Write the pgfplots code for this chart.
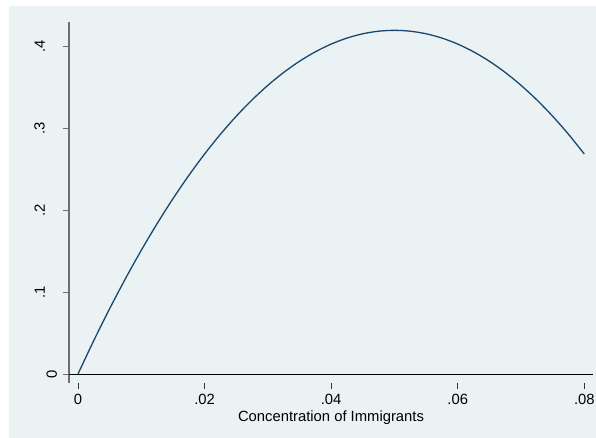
\documentclass[border=0pt]{standalone}
\usepackage{fontspec}
\setmainfont{Liberation Sans}
\usepackage{pgfplots}
\pgfplotsset{compat=1.18}
\definecolor{bgc}{HTML}{EAF2F3}
\definecolor{navy}{HTML}{1A476F}
\definecolor{axgray}{HTML}{6E6E6E}
\begin{document}
\begin{tikzpicture}[x=1pt,y=1pt]
\fill[white] (0,0) rectangle (596,438);
\fill[bgc] (9,0) rectangle (596,432);
\useasboundingbox (0,0) rectangle (596,438);
\begin{axis}[
  at={(69pt,55pt)}, anchor=south west,
  scale only axis, width=524pt, height=361pt,
  xmin=-0.00142, xmax=0.08137, ymin=-0.011, ymax=0.4302,
  scaled x ticks=false, scaled y ticks=false,
  axis y line*=left, axis x line*=bottom,
  x axis line style={draw=none},
  y axis line style={-, draw=axgray, line width=1.3pt},
  tick align=outside, major tick length=6pt,
  xtick={0,0.02,0.04,0.06,0.08},
  xticklabels={0,.02,.04,.06,.08},
  ytick={0.1,0.2,0.3,0.4},
  yticklabels={.1,.2,.3,.4},
  xtick style={draw=black!80, line width=0.9pt},
  ytick style={draw=axgray, line width=0.9pt},
  tick label style={font=\fontsize{14.8}{17}\selectfont, inner sep=0pt},
  xticklabel style={anchor=north, yshift=-5pt},
  yticklabel style={xshift=-18pt, rotate=90, anchor=south},
  extra y ticks={0},
  extra y tick labels={0},
  extra y tick style={grid=major, major grid style={black, line width=0.9pt},
    yticklabel style={yshift=-12.3pt}},
  xlabel={Concentration of Immigrants},
  xlabel style={font=\fontsize{14.8}{17}\selectfont, inner sep=0pt,
    at={(axis description cs:0.5,0)}, anchor=north, yshift=-27.5pt},
  clip=false,
]
\addplot[navy, line width=1.3pt, smooth] coordinates {
(0,0) (0.0025,0.04095) (0.005,0.0798) (0.0075,0.11655) (0.01,0.1512)
(0.0125,0.18375) (0.015,0.2142) (0.0175,0.24255) (0.02,0.2688)
(0.0225,0.29295) (0.025,0.315) (0.0275,0.33495) (0.03,0.3528)
(0.0325,0.36855) (0.035,0.3822) (0.0375,0.39375) (0.04,0.4032)
(0.0425,0.41055) (0.045,0.4158) (0.0475,0.41895) (0.05,0.42)
(0.0525,0.41895) (0.055,0.4158) (0.0575,0.41055) (0.06,0.4032)
(0.0625,0.39375) (0.065,0.3822) (0.0675,0.36855) (0.07,0.3528)
(0.0725,0.33495) (0.075,0.315) (0.0775,0.29295) (0.08,0.2688)
};
\end{axis}
\end{tikzpicture}
\end{document}
